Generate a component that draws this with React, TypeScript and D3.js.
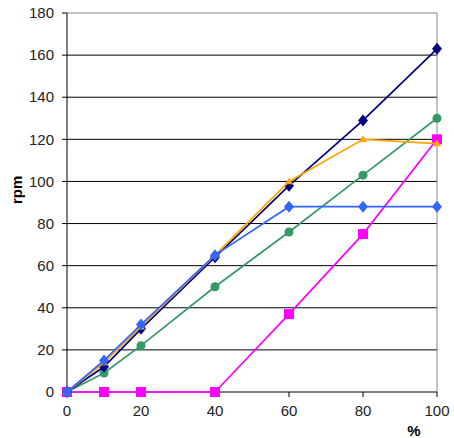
import * as d3 from "d3";

const xTicks = [0, 20, 40, 60, 80, 100];
const yTicks = [0, 20, 40, 60, 80, 100, 120, 140, 160, 180];

const pct = [0, 10, 20, 40, 60, 80, 100];
const navyRpm = [0, 12, 30, 64, 98, 129, 163];
const orangeRpm = [0, 14, 31, 65, 100, 120, 118];
const blueRpm = [0, 15, 32, 65, 88, 88, 88];
const greenRpm = [0, 9, 22, 50, 76, 103, 130];
const magentaRpm = [0, 0, 0, 0, 37, 75, 120];

const width = 454;
const height = 438;
const margin = { top: 13, right: 17, bottom: 46, left: 67 };

type Series = { name: string; values: number[]; color: string; marker: string; size: number };

const series: Series[] = [
  { name: "magenta", values: magentaRpm, color: "#ff00ff", marker: "square", size: 10 },
  { name: "green", values: greenRpm, color: "#339966", marker: "circle", size: 9 },
  { name: "navy", values: navyRpm, color: "#000080", marker: "diamond", size: 10 },
  { name: "orange", values: orangeRpm, color: "#ffa500", marker: "triangle", size: 8 },
  { name: "blue", values: blueRpm, color: "#3366ff", marker: "diamond", size: 10 },
];

const App = () => {
  const x = d3.scaleLinear().domain([0, 100]).range([margin.left, width - margin.right]);
  const y = d3.scaleLinear().domain([0, 180]).range([height - margin.bottom, margin.top]);
  const line = d3
    .line<number>()
    .x((_, i) => x(pct[i]))
    .y((d) => y(d));

  const marker = (s: Series, cx: number, cy: number, key: number) => {
    const r = s.size / 2;
    if (s.marker === "square")
      return <rect key={key} x={cx - r} y={cy - r} width={s.size} height={s.size} fill={s.color} />;
    if (s.marker === "circle") return <circle key={key} cx={cx} cy={cy} r={r} fill={s.color} />;
    if (s.marker === "triangle")
      return (
        <path key={key} d={`M${cx},${cy - r} L${cx + r},${cy + r * 0.7} L${cx - r},${cy + r * 0.7}Z`} fill={s.color} />
      );
    return <path key={key} d={`M${cx},${cy - r - 1} L${cx + r},${cy} L${cx},${cy + r + 1} L${cx - r},${cy}Z`} fill={s.color} />;
  };

  return (
    <svg
      width={width}
      height={height}
      style={{ position: "absolute", left: 0, top: 0, fontFamily: "Arial, 'Liberation Sans', sans-serif" }}
    >
      <rect width={width} height={height} fill="#fff" />
      {/* grid */}
      {yTicks.slice(1, -1).map((t) => (
        <line key={t} x1={x(0)} x2={x(100)} y1={y(t)} y2={y(t)} stroke="#000" strokeWidth={1} />
      ))}
      <line x1={x(0)} x2={x(100)} y1={y(180)} y2={y(180)} stroke="#888" />
      <line x1={x(100)} x2={x(100)} y1={y(180)} y2={y(0)} stroke="#888" />
      {/* axes */}
      <line x1={x(0)} x2={x(0)} y1={y(180)} y2={y(0)} stroke="#000" />
      <line x1={x(0)} x2={x(100)} y1={y(0)} y2={y(0)} stroke="#000" />
      {yTicks.map((t) => (
        <g key={t}>
          <line x1={x(0) - 5} x2={x(0)} y1={y(t)} y2={y(t)} stroke="#000" />
          <text x={x(0) - 13} y={y(t)} dy="0.35em" textAnchor="end" fontSize={15} fill="#222">
            {t}
          </text>
        </g>
      ))}
      {xTicks.map((t) => (
        <g key={t}>
          <line x1={x(t)} x2={x(t)} y1={y(0)} y2={y(0) + 5} stroke="#000" />
          <text x={x(t)} y={y(0) + 24} textAnchor="middle" fontSize={15} fill="#222">
            {t}
          </text>
        </g>
      ))}
      <text x={414} y={436} textAnchor="middle" fontSize={15} fontWeight="bold" fill="#000">
        %
      </text>
      <text
        transform={`translate(22,${y(96)}) rotate(-90)`}
        textAnchor="middle"
        fontSize={15}
        fontWeight="bold"
        fill="#000"
      >
        rpm
      </text>
      {series.map((s) => (
        <g key={s.name}>
          <path d={line(s.values) ?? ""} fill="none" stroke={s.color} strokeWidth={1.7} />
          {s.values.map((v, i) => marker(s, x(pct[i]), y(v), i))}
        </g>
      ))}
    </svg>
  );
};

export default App;
